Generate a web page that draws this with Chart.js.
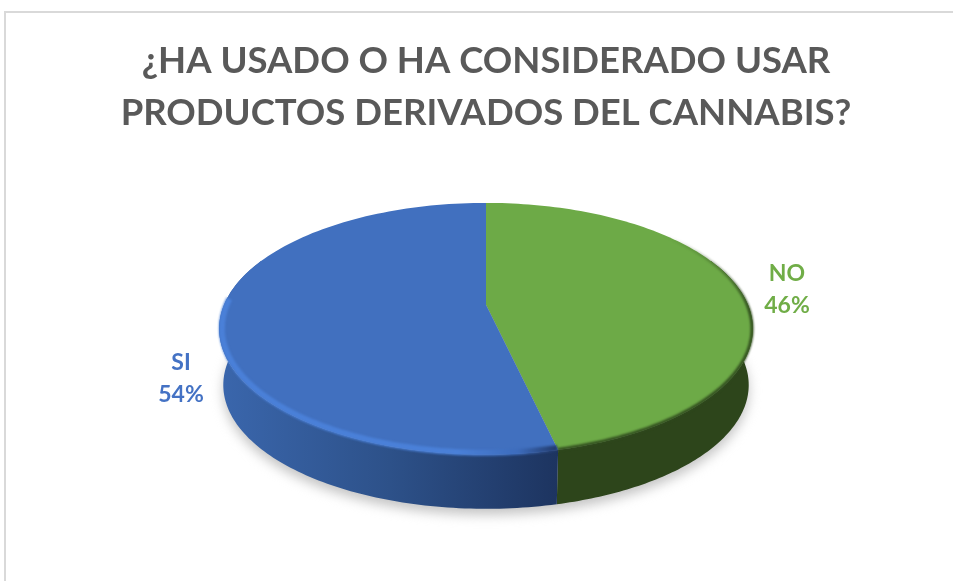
<!DOCTYPE html>
<html>
<head>
<meta charset="utf-8">
<script src="https://cdn.jsdelivr.net/npm/chart.js@4/dist/chart.umd.min.js"></script>
<style>
    body { margin: 0; background: #fff; }
    #frame { position: absolute; left: 4px; top: 11px; right: 0; bottom: 0; border-top: 2px solid #d9d9d9; border-left: 2px solid #d9d9d9; }
    canvas { position: absolute; left: 0; top: 0; }
</style>
</head>
<body>
<div id="frame"></div>
<canvas id="pie" width="953" height="581"></canvas>
<script>
const titleLines = ['¿HA USADO O HA CONSIDERADO USAR', 'PRODUCTOS DERIVADOS DEL CANNABIS?'];
const categories = ['NO', 'SI'];
// printed as 46% and 54%, the split on the picture sits a little past 46
const percents = [46.4, 53.6];
const sliceColors = ['#6daa47', '#4170bf'];
const labelColors = ['#70ad47', '#4472c4'];

// the pie is tilted: the library gives center and angles, this squashes them
const tilt = 0.19;
const squash = 0.463;
const depth = 57;
const wallShrink = 0.985;
const labelSpots = [{ x: 787, y: 274 }, { x: 181, y: 363 }];

function project(arc, angle, shrink, drop) {
    const u = Math.cos(angle) * shrink;
    const v = Math.sin(angle) * shrink;
    const w = 1 - tilt * v;
    return {
        x: arc.x + arc.outerRadius * u / w,
        y: arc.y + drop + arc.outerRadius * squash * v / w
    };
}

function traceEdge(ctx, arc, from, to, shrink, drop, first) {
    const steps = 120;
    for (let i = 0; i <= steps; i++) {
        const p = project(arc, from + (to - from) * i / steps, shrink, drop);
        if (i == 0 && first) ctx.moveTo(p.x, p.y);
        else ctx.lineTo(p.x, p.y);
    }
}

function wallGradient(ctx, index) {
    const g = ctx.createLinearGradient(222, 0, 558, 0);
    if (index == 1) {
        g.addColorStop(0, '#3a66ac');
        g.addColorStop(0.5, '#2d5189');
        g.addColorStop(1, '#1d3460');
    } else {
        g.addColorStop(0, '#2d451b');
        g.addColorStop(1, '#2d451b');
    }
    return g;
}

function rimGradient(ctx, index) {
    if (index == 1) {
        const g = ctx.createLinearGradient(222, 0, 558, 0);
        g.addColorStop(0, '#4a80d8');
        g.addColorStop(0.7, '#4a80d8');
        g.addColorStop(0.88, '#3d6cbc');
        g.addColorStop(1, '#21396a');
        return g;
    }
    // green edge fades out towards the back
    const g = ctx.createLinearGradient(0, 235, 0, 310);
    g.addColorStop(0, 'rgba(47,74,29,0)');
    g.addColorStop(1, 'rgba(47,74,29,1)');
    return g;
}

const tiltedPie = {
    id: 'tiltedPie',
    beforeDatasetDraw(chart, args) {
        const ctx = chart.ctx;
        const arcs = args.meta.data;

        // soft shadow under the disc
        ctx.save();
        ctx.filter = 'blur(6px)';
        ctx.fillStyle = '#c4c4c4';
        ctx.beginPath();
        traceEdge(ctx, arcs[0], 0, Math.PI * 2, wallShrink, depth + 6, true);
        ctx.fill();
        ctx.restore();

        // side wall, front half only
        arcs.forEach((arc, i) => {
            const from = Math.max(arc.startAngle, -0.4);
            const to = Math.min(arc.endAngle, Math.PI + 0.4);
            ctx.beginPath();
            traceEdge(ctx, arc, from, to, 1, 0, true);
            traceEdge(ctx, arc, to, from, wallShrink, depth, false);
            ctx.closePath();
            ctx.fillStyle = wallGradient(ctx, i);
            ctx.fill();
        });

        // top face
        arcs.forEach((arc) => {
            ctx.beginPath();
            ctx.moveTo(arc.x, arc.y);
            traceEdge(ctx, arc, arc.startAngle, arc.endAngle, 1, 0, false);
            ctx.closePath();
            ctx.fillStyle = arc.options.backgroundColor;
            ctx.fill();
        });

        // rim on the edge of the top face, light on blue, dark on green
        arcs.forEach((arc, i) => {
            const from = Math.max(arc.startAngle, -0.7);
            const to = Math.min(arc.endAngle, Math.PI + 0.05);
            ctx.save();
            ctx.filter = 'blur(1.2px)';
            ctx.beginPath();
            traceEdge(ctx, arc, from, to, i == 1 ? 0.99 : 0.997, 0, true);
            ctx.lineWidth = i == 1 ? 6 : 3;
            ctx.strokeStyle = rimGradient(ctx, i);
            ctx.stroke();
            ctx.restore();
        });
        return false;
    },
    afterDraw(chart) {
        const ctx = chart.ctx;
        ctx.save();
        ctx.font = 'bold 23px Lato';
        ctx.textAlign = 'center';
        ctx.textBaseline = 'middle';
        categories.forEach((name, i) => {
            ctx.fillStyle = labelColors[i];
            ctx.fillText(name, labelSpots[i].x, labelSpots[i].y);
            ctx.fillText(Math.round(chart.data.datasets[0].data[i]) + '%', labelSpots[i].x, labelSpots[i].y + 32);
        });
        ctx.restore();
    }
};

new Chart(document.getElementById('pie').getContext('2d'), {
    type: 'pie',
    plugins: [tiltedPie],
    data: {
        labels: categories,
        datasets: [{
            data: percents,
            backgroundColor: sliceColors,
            borderWidth: 0,
            radius: 262
        }]
    },
    options: {
        responsive: false,
        animation: false,
        layout: { padding: { left: 19, bottom: 111 } },
        plugins: {
            legend: { display: false },
            tooltip: { enabled: false },
            title: {
                display: true,
                text: titleLines,
                color: '#595959',
                font: { family: 'Lato', size: 36.5, weight: 'bold', lineHeight: 1.42 },
                padding: { top: 35, bottom: 1 }
            }
        }
    }
});
</script>
</body>
</html>
